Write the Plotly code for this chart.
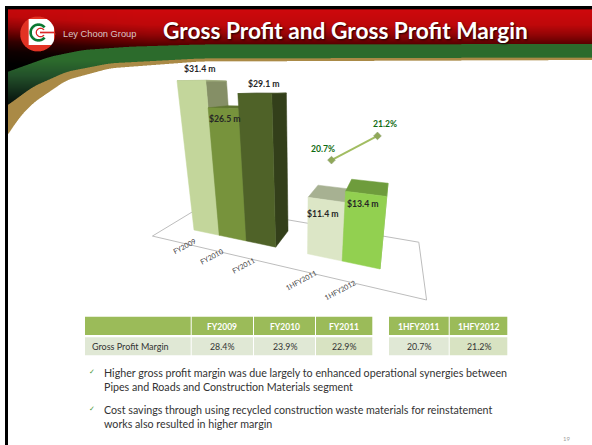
import numpy as np
import plotly.graph_objects as go

# ---- data ----
categories = ["FY2009", "FY2010", "FY2011", "1HFY2011", "1HFY2012"]
gross_profit = [31.4, 26.5, 29.1, 11.4, 13.4]
profit_labels = ["$31.4 m", "$26.5 m", "$29.1 m", "$11.4 m", "$13.4 m"]
margin_categories = ["1HFY2011", "1HFY2012"]
margin_values = [20.7, 21.2]
margin_labels = ["20.7%", "21.2%"]
table_row_label = "Gross Profit Margin"
table_left_head = ["FY2009", "FY2010", "FY2011"]
table_left_vals = ["28.4%", "23.9%", "22.9%"]
table_right_head = ["1HFY2011", "1HFY2012"]
table_right_vals = ["20.7%", "21.2%"]
title_text = "Gross Profit and Gross Profit Margin"
brand_text = "Ley Choon Group"
bullets = [
    ["Higher gross profit margin was due largely to enhanced operational synergies between",
     "Pipes and Roads and Construction Materials segment"],
    ["Cost savings through using recycled construction waste materials for reinstatement",
     "works also resulted in higher margin"],
]
page_number = "19"

# ---- styles / layout ----
W, H = 592, 445
SANS = "Lato"
slots = [0, 1, 2, 4, 5]              # category position on the 3-D floor (slot 3 is empty)
line_slots = [4.5, 5.65]
front = ["#C3D69B", "#77933C", "#4F6228", "#DCE6C6", "#92D050"]
side = ["#858F66", "#4F6228", "#333F1A", "#A7B192", "#7FB545"]
top = ["#A3B07E", "#5F7530", "#3C4A1E", "#A7B192", "#6E9C3C"]
label_offsets = [(-2.6, -12), (-8, 11), (1, -9.4), (-7, 20), (-5, 16)]
margin_offsets = [(-8, -11), (8, -12)]
tick_offsets = [(-6, 1), (-6, 4.4), (-4.3, 6.6), (-16, 5.5), (-17, 6.3)]


def project(t, d, h=0.0, q=None):
    """Perspective camera: t along categories, d depth, h value (axis units)."""
    q = 0.00444 * h if q is None else q
    w = 1 - 0.0361 * t + 0.1 * d - q
    x = (17.28 * t + 194 + 39.8 * d - q * 299) / w
    y = (-3.21 * t + 230 + 8.73 * d - q * 1152) / w
    return x, y


def margin_q(m):
    return (m - 18.85) * 0.0424


def header_image():
    ss = 3
    rows = 140
    xs = (np.arange(W * ss) + .5) / ss
    ys = (np.arange(rows * ss) + .5) / ss
    X, Y = np.meshgrid(xs, ys)

    def smooth(xp, fp):
        c = np.interp(xs, xp, fp)
        k = np.ones(45) / 45
        c2 = np.convolve(np.pad(c, 22, mode="edge"), k, mode="valid")
        return c2

    green_top = smooth([0, 8, 50, 83, 130, 200, 592], [75, 71.7, 56.7, 50, 46.7, 44.5, 44])[None, :]
    gold_top = smooth([0, 8, 33, 66.7, 110, 200, 592], [110, 105, 86.7, 71.7, 63.3, 58.5, 57.5])[None, :]
    gold_bot = smooth([0, 8, 18, 33, 66.7, 110, 200, 592], [145, 135, 119, 103, 80, 68.3, 61.5, 60])[None, :]

    img = np.ones(X.shape + (3,)) * 255.0

    def grad(v, stops):
        ps = [s[0] for s in stops]
        return np.stack([np.interp(v, ps, [s[1][i] for s in stops]) for i in range(3)], axis=-1)

    red = grad(Y + np.maximum(0, 150 - X) * 0.06,
               [(9, (206, 8, 12)), (25, (190, 8, 10)), (35, (145, 4, 6)), (44, (90, 0, 0)),
                (50, (50, 0, 0)), (60, (15, 0, 0)), (72, (0, 0, 0))])
    green = grad(Y, [(60, (44, 107, 44)), (75, (35, 82, 42)), (90, (20, 48, 28)), (105, (6, 14, 10))])
    gold = np.zeros_like(img)
    gold[...] = (170, 138, 70)

    m = (Y >= 9.3) & (Y < green_top)
    img[m] = red[m]
    m = (Y >= green_top) & (Y < gold_top)
    img[m] = green[m]
    m = (Y >= gold_top) & (Y < gold_bot)
    img[m] = gold[m]
    # page frame
    img[(Y >= 6) & (Y < 9.3) & (X >= 5)] = 0
    img[(Y >= 6) & (X >= 5) & (X < 8)] = 0
    img[X < 5] = 255
    img[Y < 6] = 255

    # logo
    r0 = np.hypot(X - 37.7, Y - 34)
    img[r0 < 17.5] = (226, 50, 36)
    m = (X > 28.5) & (X < 54) & (Y > 19) & (Y < 45) & (r0 < 17.5)
    img[m] = 255
    r1 = np.hypot(X - 38.5, Y - 32.5)
    ang = np.abs(np.degrees(np.arctan2(Y - 32.5, X - 38.5)))
    img[(r1 < 9.2) & (r1 > 6.6) & (ang > 40)] = (10, 120, 50)
    r2 = np.hypot(X - 40.5, Y - 32.5)
    ang2 = np.abs(np.degrees(np.arctan2(Y - 32.5, X - 40.5)))
    img[(r2 < 4.8) & (r2 > 3.6) & (ang2 > 35)] = (220, 40, 40)
    img[(np.abs(Y - 32.5) < .7) & (X > 40) & (X < 54)] = (220, 40, 40)

    small = img.reshape(rows, ss, W, ss, 3).mean(axis=(1, 3))
    return small.round().astype(int)


fig = go.Figure()
fig.add_trace(go.Image(z=header_image().tolist(), x0=.5, y0=.5, dx=1, dy=1, hoverinfo="skip"))


def poly(points, color):
    xs = [p[0] for p in points] + [points[0][0]]
    ys = [p[1] for p in points] + [points[0][1]]
    fig.add_trace(go.Scatter(x=xs, y=ys, mode="lines", fill="toself", fillcolor=color,
                             line=dict(color=color, width=.5), hoverinfo="skip", showlegend=False))


# floor outline
floor = [project(-1.0, -.765), project(7.05, -.765), project(7.05, 1.73), project(-1.0, 1.73)]
fig.add_trace(go.Scatter(x=[p[0] for p in floor] + [floor[0][0]], y=[p[1] for p in floor] + [floor[0][1]],
                         mode="lines", line=dict(color="#BDBDBD", width=1), hoverinfo="skip", showlegend=False))

annotations = []


def text(x, y, s, size, color, bold=False, anchor="center", angle=0, family=SANS, shadow=None):
    font = dict(family=family, size=size, color=color, weight="bold" if bold else "normal")
    if shadow:
        font["shadow"] = shadow
    annotations.append(dict(x=x, y=y, xref="x", yref="y", text=s, showarrow=False, xanchor=anchor,
                            yanchor="middle", textangle=angle, font=font, borderpad=0))


# 3-D bars, back-to-front along the category axis
for i, (t, v) in enumerate(zip(slots, gross_profit)):
    poly([project(t + 1, 0, 0), project(t + 1, 1, 0), project(t + 1, 1, v), project(t + 1, 0, v)], side[i])
    poly([project(t, 0, v), project(t + 1, 0, v), project(t + 1, 1, v), project(t, 1, v)], top[i])
    poly([project(t, 0, 0), project(t + 1, 0, 0), project(t + 1, 0, v), project(t, 0, v)], front[i])

# category labels on the floor edge
for c, t, (ox, oy) in zip(categories, slots, tick_offsets):
    x, y = project(t + .5, -.765)
    text(x + ox, y + oy, c, 7, "#404040", angle=-28)

# bar value labels
for t, v, s, (ox, oy) in zip(slots, gross_profit, profit_labels, label_offsets):
    x, y = project(t + .5, .5, v)
    text(x + ox, y + oy, s, 8.7, "#262626", bold=True)

# margin line
mx, my = zip(*[project(t, .5, q=margin_q(m)) for t, m in zip(line_slots, margin_values)])
fig.add_trace(go.Scatter(x=mx, y=my, mode="lines+markers", line=dict(color="#A2BD62", width=2),
                         marker=dict(symbol="diamond", size=6, color="#8FA858", line=dict(color="#8A9A70", width=.5)),
                         hoverinfo="skip", showlegend=False))
for x, y, s, (ox, oy) in zip(mx, my, margin_labels, margin_offsets):
    text(x + ox, y + oy, s, 8.6, "#0F6B12", bold=True)

# header text
text(345, 30, title_text, 22.7, "#FFFFFF", bold=True, shadow="1px 1px 2px rgba(0,0,0,.85)")
text(62, 34, brand_text, 9.3, "#D9C6C6", anchor="left", family="Liberation Sans")

# table
shapes = [dict(type="rect", xref="x", yref="y", x0=5, x1=8, y0=140, y1=445, fillcolor="#000000", line_width=0)]
HEAD, LIGHT, MID = "#9BBB59", "#E0E8D5", "#D8E3C2"


def cell(x0, x1, y0, y1, color):
    shapes.append(dict(type="rect", xref="x", yref="y", x0=x0, x1=x1, y0=y0, y1=y1, fillcolor=color, line_width=0))


r1 = (316.7, 335)
r2 = (337.3, 355.3)
cell(85, 190.7, *r1, HEAD)
cell(85, 190.7, *r2, LIGHT)
text(90.5, 346.5, table_row_label, 9, "#333333", anchor="left")
left_cols = [(191.7, 253), (254, 315), (316, 372.3)]
right_cols = [(389, 448.7), (449.7, 507.3)]
for cols, heads, vals in ((left_cols, table_left_head, table_left_vals),
                          (right_cols, table_right_head, table_right_vals)):
    for j, ((a, b), hd, vl) in enumerate(zip(cols, heads, vals)):
        cell(a, b, *r1, HEAD)
        cell(a, b, *r2, MID if j == len(cols) - 1 else LIGHT)
        text((a + b) / 2, 326.5, hd, 8.5, "#FFFFFF", bold=True)
        text((a + b) / 2, 346.5, vl, 8.8, "#333333")

# bullets
for (l1, l2), y in zip(bullets, (372, 409)):
    text(91.5, y, "✓", 7, "#4A9A3A", family="DejaVu Sans")
    text(103, y, l1, 10.7, "#333333", anchor="left")
    text(103, y + 14, l2, 10.7, "#333333", anchor="left")

text(566.7, 438.3, page_number, 6, "#A0A0A0")

fig.update_layout(
    width=W, height=H, margin=dict(l=0, r=0, t=0, b=0), paper_bgcolor="#FFFFFF", plot_bgcolor="#FFFFFF",
    xaxis=dict(range=[0, W], visible=False, fixedrange=True, constrain="range"),
    yaxis=dict(range=[H, 0], visible=False, fixedrange=True, constrain="range", scaleanchor=None),
    annotations=annotations, shapes=shapes, showlegend=False,
)
fig.write_html("out.html", config=dict(displayModeBar=False),
               post_script="document.body.style.margin='0';document.documentElement.style.overflow='hidden';")
